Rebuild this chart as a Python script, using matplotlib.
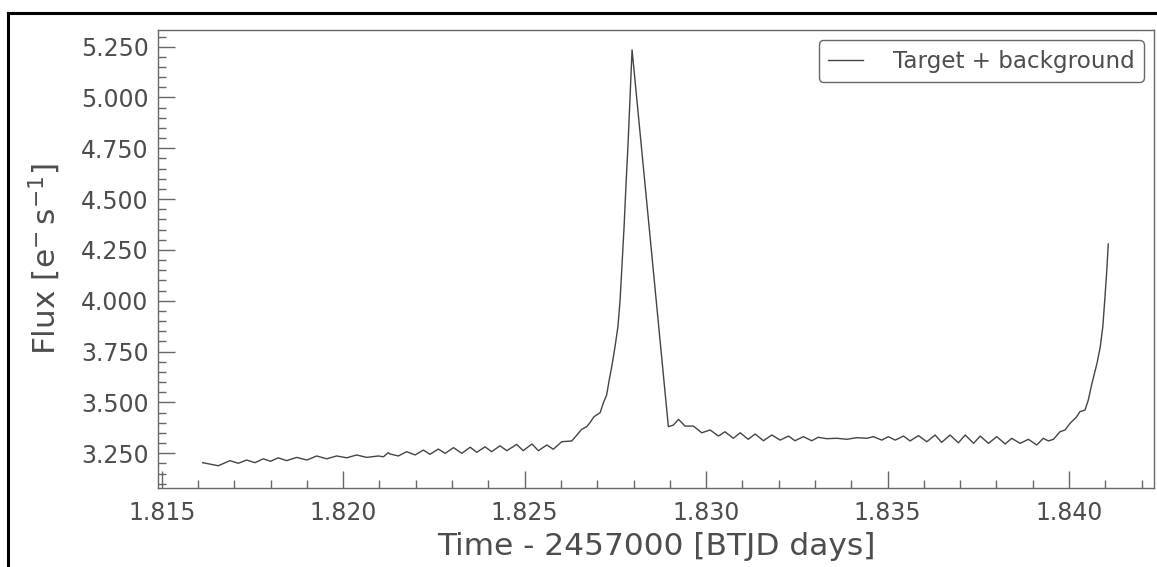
import numpy as np
import matplotlib
matplotlib.use('Agg')
import matplotlib.pyplot as plt
from matplotlib.ticker import MultipleLocator, FuncFormatter
from matplotlib.lines import Line2D

# light curve (time - 2457000 in days, flux in e-/s)
time = [
    1816.13, 1816.56, 1816.88, 1817.11, 1817.34, 1817.57, 1817.80, 1818.00,
    1818.21, 1818.44, 1818.72, 1819.00, 1819.27, 1819.55, 1819.82, 1820.10,
    1820.37, 1820.65, 1820.97, 1821.11, 1821.24, 1821.29, 1821.52, 1821.75,
    1821.98, 1822.21, 1822.39, 1822.62, 1822.81, 1823.04, 1823.27, 1823.50,
    1823.68, 1823.91, 1824.09, 1824.32, 1824.51, 1824.78, 1824.96, 1825.20,
    1825.38, 1825.61, 1825.79, 1826.02, 1826.30, 1826.44, 1826.57, 1826.71,
    1826.80, 1826.91, 1827.08, 1827.17, 1827.26, 1827.33, 1827.40, 1827.49,
    1827.57, 1827.63, 1827.68, 1827.74, 1827.79, 1827.85, 1827.90, 1827.96,
    1828.96, 1829.10, 1829.24, 1829.42, 1829.65, 1829.88, 1830.11, 1830.34,
    1830.52, 1830.75, 1830.94, 1831.16, 1831.35, 1831.58, 1831.81, 1832.04,
    1832.27, 1832.45, 1832.68, 1832.91, 1833.09, 1833.32, 1833.60, 1833.88,
    1834.15, 1834.43, 1834.61, 1834.84, 1835.02, 1835.21, 1835.44, 1835.62,
    1835.85, 1836.08, 1836.31, 1836.49, 1836.72, 1836.95, 1837.14, 1837.37,
    1837.55, 1837.78, 1838.01, 1838.24, 1838.42, 1838.65, 1838.88, 1839.11,
    1839.29, 1839.43, 1839.57, 1839.75, 1839.89, 1840.03, 1840.21, 1840.30,
    1840.44, 1840.53, 1840.63, 1840.77, 1840.86, 1840.93, 1840.99, 1841.04,
    1841.08,
]
flux = [
    3204, 3189, 3214, 3201, 3217, 3204, 3223, 3211,
    3228, 3214, 3230, 3217, 3237, 3223, 3237, 3228,
    3242, 3230, 3237, 3233, 3253, 3247, 3237, 3258,
    3242, 3266, 3245, 3271, 3250, 3278, 3250, 3280,
    3255, 3282, 3258, 3287, 3263, 3294, 3263, 3296,
    3263, 3291, 3270, 3307, 3311, 3340, 3368, 3381,
    3401, 3430, 3450, 3499, 3537, 3611, 3676, 3774,
    3873, 4004, 4168, 4365, 4561, 4775, 4988, 5234,
    3381, 3389, 3417, 3384, 3384, 3351, 3365, 3335,
    3356, 3324, 3351, 3319, 3345, 3312, 3340, 3315,
    3335, 3312, 3332, 3312, 3329, 3322, 3324, 3319,
    3327, 3324, 3332, 3315, 3332, 3315, 3335, 3311,
    3337, 3307, 3340, 3304, 3340, 3302, 3340, 3299,
    3335, 3299, 3332, 3296, 3324, 3299, 3319, 3291,
    3324, 3311, 3319, 3356, 3365, 3398, 3430, 3455,
    3463, 3512, 3594, 3693, 3774, 3873, 4020, 4152,
    4280,
]

text_col = '#4d4d4d'
edge_col = '#666666'

fig = plt.figure(figsize=(11.57, 5.67), dpi=100)
ax = fig.add_axes([0.1363, 0.1388, 0.8611, 0.8083])

ax.plot(time, flux, color='#444444', lw=1.0, label='Target + background')

ax.set_xlim(1814.89, 1842.34)
ax.set_ylim(3078, 5332)

thousands = FuncFormatter(lambda v, p: f"{v:,.0f}".replace(",", "."))
ax.xaxis.set_major_locator(MultipleLocator(5))
ax.xaxis.set_minor_locator(MultipleLocator(1))
ax.yaxis.set_major_locator(MultipleLocator(250))
ax.yaxis.set_minor_locator(MultipleLocator(50))
ax.xaxis.set_major_formatter(thousands)
ax.yaxis.set_major_formatter(thousands)

ax.tick_params(which='both', direction='in', colors=edge_col, labelcolor=text_col,
               labelsize=17, width=1.0)
ax.tick_params(which='major', length=12)
ax.tick_params(which='minor', length=6)
ax.tick_params(axis='x', which='major', pad=9)
ax.tick_params(axis='y', which='major', pad=6.5)

for s in ax.spines.values():
    s.set_color(edge_col)
    s.set_linewidth(1.0)

ax.set_xlabel('Time - 2457000 [BTJD days]', fontsize=22.5, color=text_col, labelpad=5)
ax.set_ylabel(r'Flux [$\mathrm{e^{-}\,s^{-1}}$]', fontsize=22.5, color=text_col, labelpad=13)

leg = ax.legend(loc='upper right', fontsize=16.6, handlelength=1.5, handletextpad=1.3,
                borderpad=0.4, borderaxespad=0.45,
                frameon=True, fancybox=True, framealpha=1)
leg.get_frame().set_edgecolor(edge_col)
leg.get_frame().set_linewidth(1.0)
for t in leg.get_texts():
    t.set_color(text_col)

# black frame of the screenshot (left and top edges visible)
fig.add_artist(Line2D([0.0072, 0.0072], [0, 0.9765], color='black', lw=2.2,
                      transform=fig.transFigure))
fig.add_artist(Line2D([0.0072, 1.0], [0.9765, 0.9765], color='black', lw=2.2,
                      transform=fig.transFigure))

fig.savefig('out.png', dpi=100)
